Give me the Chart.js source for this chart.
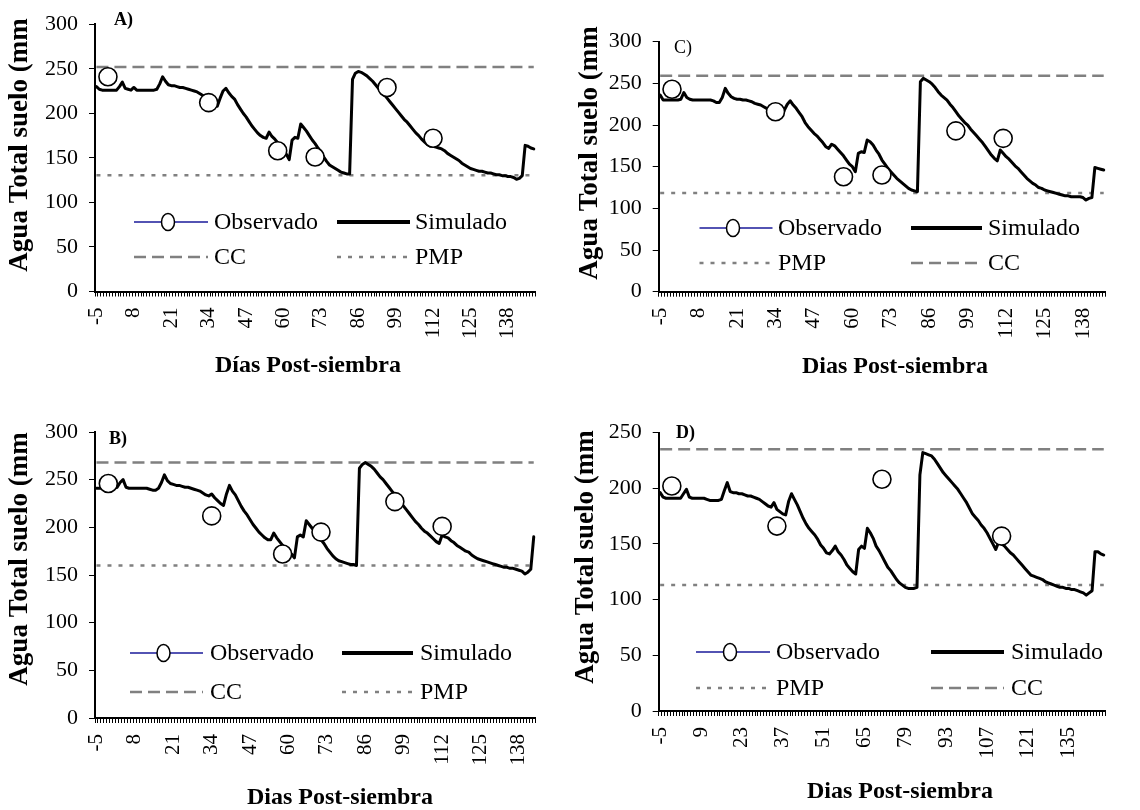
<!DOCTYPE html>
<html>
<head>
<meta charset="utf-8">
<script src="https://cdn.jsdelivr.net/npm/chart.js@4.4.1/dist/chart.umd.min.js"></script>
<style>
html,body{margin:0;padding:0;background:#fff;}
#wrap{position:relative;width:1140px;height:810px;overflow:hidden;background:#fff;}
canvas{position:absolute;}
</style>
</head>
<body>
<div id="wrap">
<canvas id="cA" width="570" height="405" style="left:0;top:0"></canvas>
<canvas id="cC" width="570" height="405" style="left:570px;top:0"></canvas>
<canvas id="cB" width="570" height="405" style="left:0;top:405px"></canvas>
<canvas id="cD" width="570" height="405" style="left:570px;top:405px"></canvas>
</div>
<script>
// ---------- DATA ----------
const DAYS = [-5,-4,-3,-2,-1,0,1,2,3,4,5,6,7,8,9,10,11,12,13,14,15,16,17,18,19,20,21,22,23,24,
25,26,27,28,29,30,31,32,33,34,35,36,37,38,39,40,41,42,43,44,45,46,47,48,49,50,51,52,53,54,
55,56,57,58,59,60,61,62,63,64,65,66,67,68,69,70,71,72,73,74,75,76,77,78,79,80,81,82,83,84,
85,86,87,88,89,90,91,92,93,94,95,96,97,98,99,100,101,102,103,104,105,106,107,108,109,110,111,112,113,114,
115,116,117,118,119,120,121,122,123,124,125,126,127,128,129,130,131,132,133,134,135,136,137,138,139,140,141,142,143,144,
145,146,147];
const DAYS_B = DAYS.slice(0, 149);   // panel B: -5 .. 143
const DAYS_C = DAYS.slice(0, 151);   // panel C: -5 .. 145

const TICKS_ABC = [-5,8,21,34,47,60,73,86,99,112,125,138];
const TICKS_D = [-5,9,23,37,51,65,79,93,107,121,135];

// Panel A
const SIM_A = [
230,227,226,226,226,226,226,226,230,235,
228,227,226,229,226,226,226,226,226,226,
226,227,233,241,236,232,231,231,230,229,
229,228,227,226,225,224,222,220,218,216,
215,214,208,217,225,228,223,219,216,210,
205,200,196,191,186,182,178,175,173,172,
179,174,171,167,163,158,154,148,170,173,
172,188,184,180,175,170,166,161,157,151,
146,142,140,138,136,134,133,132,132,238,
245,247,246,244,242,239,236,232,228,225,
221,217,213,209,205,201,197,193,190,186,
182,178,175,171,168,165,163,163,162,161,
160,158,155,153,151,149,147,144,142,140,
138,137,136,135,135,134,133,133,132,131,
131,130,130,129,129,128,126,127,130,164,
163,161,160];
const OBS_A_DAYS = [-1,34,58,71,96,112];
const OBS_A = [241,212,158,151,229,172];
const CC_A = 252, PMP_A = 130.5;

// Panel B
const SIM_B = [
241,241,241,241,241,241,241,242,247,250,
242,241,241,241,241,241,241,241,240,239,
239,241,247,255,249,246,245,244,244,243,
242,242,241,240,239,238,236,234,233,235,
231,228,225,223,235,244,238,234,228,222,
217,213,208,203,199,195,192,189,187,187,
194,189,185,181,178,175,172,168,190,192,
190,207,203,199,195,191,187,183,178,174,
170,167,165,164,163,162,161,161,160,262,
266,268,266,264,261,257,253,250,246,242,
238,234,230,226,222,218,214,210,206,203,
199,196,194,191,188,185,183,192,190,189,
186,184,181,179,177,175,174,171,169,167,
166,165,164,163,162,161,160,159,158,158,
157,157,156,155,154,151,153,156,190];
const OBS_B_DAYS = [-1,34,58,71,96,112];
const OBS_B = [246,212,172,195,227,201];
const CC_B = 268, PMP_B = 160;

// Panel C
const SIM_C = [
236,230,230,230,230,230,230,231,239,233,
231,230,230,230,230,230,230,230,229,227,
227,233,244,238,234,232,231,231,230,230,
229,228,226,225,224,222,220,218,216,214,
213,210,218,225,229,224,220,215,210,203,
198,194,190,187,183,179,174,172,177,175,
171,167,163,158,153,150,144,166,168,167,
182,180,176,170,165,158,153,148,144,140,
136,133,130,127,124,122,121,120,252,256,
254,252,249,245,240,236,233,230,225,221,
216,211,207,203,200,195,191,187,183,179,
174,169,164,160,157,170,166,162,159,155,
151,148,144,140,136,133,130,128,125,124,
122,121,120,119,118,117,116,115,115,114,
114,114,114,113,110,112,113,149,148,147,
146];
const OBS_C_DAYS = [-1,34,57,70,95,111];
const OBS_C = [243,216,138,140,193,184];
const CC_C = 259, PMP_C = 118.5;

// Panel D
const SIM_D = [
196,192,191,191,191,191,191,191,195,199,
192,191,191,191,191,191,190,189,189,189,
189,190,198,205,197,196,196,195,195,194,
193,193,192,191,190,188,186,184,183,187,
181,179,177,176,188,195,190,185,179,173,
168,164,161,158,154,149,146,142,141,144,
148,143,140,136,131,128,125,123,145,148,
146,164,160,155,148,144,139,134,129,126,
122,118,115,113,111,110,110,110,111,212,
232,231,230,229,226,222,218,214,211,208,
205,202,199,195,191,187,182,177,174,171,
167,164,160,155,150,145,152,150,148,145,
142,140,137,134,131,128,125,122,121,120,
119,118,116,115,114,113,112,111,111,110,
110,109,109,108,107,106,104,106,108,143,
143,141,140];
const OBS_D_DAYS = [-1,35,71,112];
const OBS_D = [202,166,208,157];
const CC_D = 235, PMP_D = 113;

// ---------- DRAWING ----------
const FONT = "'Liberation Serif', 'Times New Roman', serif";
const W = 570, H = 405;

const decor = {
  id: 'decor',
  afterDraw(chart, args, o) {
    const ctx = chart.ctx;
    ctx.save();
    const ds = chart.data.datasets;
    o.legend.forEach(slot => {
      const d = ds[slot.ds];
      const col = o.cols[slot.col];
      const y = o.rows[slot.row];
      ctx.save();
      ctx.beginPath();
      ctx.moveTo(col.x1, y); ctx.lineTo(col.x2, y);
      if (slot.ds === 0) {
        ctx.strokeStyle = d.legendLine; ctx.lineWidth = 1.5; ctx.setLineDash([]);
      } else {
        ctx.strokeStyle = d.borderColor; ctx.lineWidth = slot.ds === 1 ? 4 : d.borderWidth;
        ctx.setLineDash(d.borderDash || []);
      }
      ctx.stroke();
      ctx.setLineDash([]);
      if (slot.ds === 0) {
        ctx.beginPath();
        ctx.ellipse((col.x1 + col.x2) / 2 - 3, y, 6.5, 8.5, 0, 0, Math.PI * 2);
        ctx.fillStyle = '#fff'; ctx.fill();
        ctx.strokeStyle = '#000'; ctx.lineWidth = 1.5; ctx.stroke();
      }
      ctx.fillStyle = '#000';
      ctx.font = o.legendFont;
      ctx.textAlign = 'left'; ctx.textBaseline = 'middle';
      ctx.fillText(d.label, col.tx, y + 1);
      ctx.restore();
    });
    o.texts.forEach(t => {
      ctx.save();
      ctx.font = t.font; ctx.fillStyle = '#000';
      ctx.textAlign = t.align || 'center'; ctx.textBaseline = 'middle';
      ctx.translate(t.x, t.y);
      if (t.rot) ctx.rotate(t.rot);
      ctx.fillText(t.text, 0, 0);
      ctx.restore();
    });
    ctx.restore();
  }
};

function makePanel(id, p) {
  const labels = p.days.map(String);
  const last = labels[labels.length - 1];
  const datasets = [
    { label: 'Observado', legendLine: '#1a1a9a',
      data: p.obsDays.map((d, i) => ({ x: String(d), y: p.obs[i] })),
      showLine: false, pointRadius: 9, pointHoverRadius: 9, pointBorderWidth: 1.6,
      pointBackgroundColor: '#fff', pointBorderColor: '#000', borderColor: '#000' },
    { label: 'Simulado', data: p.sim, borderColor: '#000', borderWidth: 3, pointRadius: 0,
      tension: 0, borderJoinStyle: 'round', borderCapStyle: 'round' },
    { label: 'CC', data: [{ x: labels[0], y: p.cc }, { x: last, y: p.cc }],
      borderColor: '#808080', borderWidth: 2.5, borderDash: [12, 6], pointRadius: 0 },
    { label: 'PMP', data: [{ x: labels[0], y: p.pmp }, { x: last, y: p.pmp }],
      borderColor: '#808080', borderWidth: 2.5, borderDash: [4, 7], pointRadius: 0 }
  ];
  const a = p.area;
  new Chart(document.getElementById(id), {
    type: 'line',
    data: { labels, datasets },
    plugins: [decor],
    options: {
      responsive: false, animation: false, devicePixelRatio: 1,
      layout: { padding: { left: 0, top: a.top, right: W - a.right, bottom: 0 } },
      plugins: {
        legend: { display: false }, tooltip: { enabled: false },
        decor: p.decor
      },
      scales: {
        x: {
          type: 'category', offset: true,
          grid: { display: true, offset: true, drawOnChartArea: false, drawTicks: true,
                  tickLength: 5, color: '#000', lineWidth: 1 },
          border: { display: true, color: '#000', width: 2 },
          ticks: {
            autoSkip: false, maxRotation: 90, minRotation: 90, padding: 11,
            color: '#000', font: { family: FONT, size: 21 },
            callback: (v, i) => p.ticks.includes(p.days[i]) ? String(p.days[i]) : ''
          },
          afterFit: s => { s.height = H - a.bottom; }
        },
        y: {
          min: 0, max: p.ymax,
          grid: { display: true, drawOnChartArea: false, drawTicks: true, tickLength: 6, color: '#000' },
          border: { display: true, color: '#000', width: 2 },
          ticks: { stepSize: 50, padding: 11, color: '#000', font: { family: FONT, size: 22 } },
          afterFit: s => { s.width = a.left; }
        }
      }
    }
  });
}

const YT = "bold 27px " + FONT;
const XT = "bold 24px " + FONT;
const LF = "24px " + FONT;

makePanel('cA', {
  days: DAYS, ticks: TICKS_ABC, sim: SIM_A, obsDays: OBS_A_DAYS, obs: OBS_A, cc: CC_A, pmp: PMP_A, ymax: 300,
  area: { left: 95, right: 560, top: 18.5, bottom: 291.5 },
  decor: {
    legendFont: LF,
    cols: [{ x1: 134, x2: 208, tx: 214 }, { x1: 337, x2: 410, tx: 415 }],
    rows: [222, 257],
    legend: [{ ds: 0, col: 0, row: 0 }, { ds: 1, col: 1, row: 0 }, { ds: 2, col: 0, row: 1 }, { ds: 3, col: 1, row: 1 }],
    texts: [
      { text: 'A)', x: 114, y: 20, align: 'left', font: "bold 18px " + FONT },
      { text: 'Agua Total suelo (mm', x: 20, y: 145, rot: -Math.PI / 2, font: YT },
      { text: 'Días Post-siembra', x: 308, y: 366, font: XT }
    ]
  }
});

makePanel('cC', {
  days: DAYS_C, ticks: TICKS_ABC, sim: SIM_C, obsDays: OBS_C_DAYS, obs: OBS_C, cc: CC_C, pmp: PMP_C, ymax: 300,
  area: { left: 88.7, right: 545.3, top: 41.7, bottom: 291.7 },
  decor: {
    legendFont: LF,
    cols: [{ x1: 129.5, x2: 202.5, tx: 208 }, { x1: 341, x2: 412, tx: 418 }],
    rows: [228, 263],
    legend: [{ ds: 0, col: 0, row: 0 }, { ds: 1, col: 1, row: 0 }, { ds: 3, col: 0, row: 1 }, { ds: 2, col: 1, row: 1 }],
    texts: [
      { text: 'C)', x: 104, y: 48, align: 'left', font: "18px " + FONT },
      { text: 'Agua Total suelo (mm', x: 20, y: 153, rot: -Math.PI / 2, font: YT },
      { text: 'Dias Post-siembra', x: 325, y: 367, font: XT }
    ]
  }
});

makePanel('cB', {
  days: DAYS_B, ticks: TICKS_ABC, sim: SIM_B, obsDays: OBS_B_DAYS, obs: OBS_B, cc: CC_B, pmp: PMP_B, ymax: 300,
  area: { left: 95, right: 550, top: 27, bottom: 313 },
  decor: {
    legendFont: LF,
    cols: [{ x1: 130, x2: 203, tx: 210 }, { x1: 342, x2: 413, tx: 420 }],
    rows: [248, 287],
    legend: [{ ds: 0, col: 0, row: 0 }, { ds: 1, col: 1, row: 0 }, { ds: 2, col: 0, row: 1 }, { ds: 3, col: 1, row: 1 }],
    texts: [
      { text: 'B)', x: 109, y: 34, align: 'left', font: "bold 18px " + FONT },
      { text: 'Agua Total suelo (mm', x: 20, y: 154, rot: -Math.PI / 2, font: YT },
      { text: 'Dias Post-siembra', x: 340, y: 393, font: XT }
    ]
  }
});

makePanel('cD', {
  days: DAYS, ticks: TICKS_D, sim: SIM_D, obsDays: OBS_D_DAYS, obs: OBS_D, cc: CC_D, pmp: PMP_D, ymax: 250,
  area: { left: 88.7, right: 567.5, top: 27.5, bottom: 306 },
  decor: {
    legendFont: LF,
    cols: [{ x1: 126, x2: 200, tx: 206 }, { x1: 361, x2: 434, tx: 441 }],
    rows: [247, 283],
    legend: [{ ds: 0, col: 0, row: 0 }, { ds: 1, col: 1, row: 0 }, { ds: 3, col: 0, row: 1 }, { ds: 2, col: 1, row: 1 }],
    texts: [
      { text: 'D)', x: 106, y: 28, align: 'left', font: "bold 18px " + FONT },
      { text: 'Agua Total suelo (mm', x: 16, y: 152, rot: -Math.PI / 2, font: YT },
      { text: 'Dias Post-siembra', x: 330, y: 387, font: XT }
    ]
  }
});
</script>
</body>
</html>
